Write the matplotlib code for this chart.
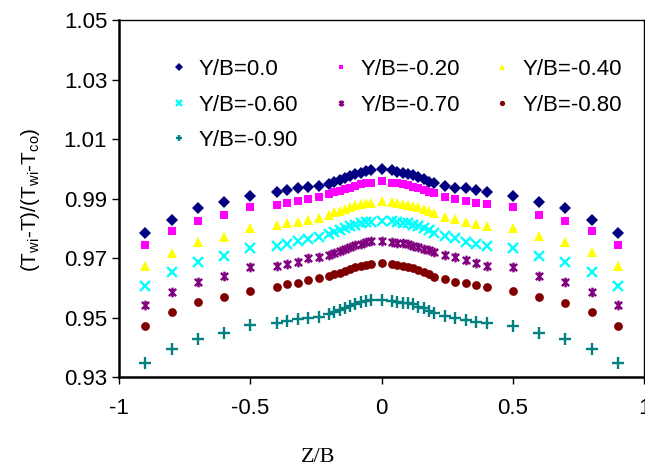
import matplotlib
matplotlib.use("Agg")
import matplotlib.pyplot as plt
from matplotlib.path import Path

plt.rcParams['font.family'] = ['Liberation Sans', 'DejaVu Sans']
plt.rcParams['mathtext.fontset'] = 'custom'
plt.rcParams['mathtext.rm'] = 'Liberation Sans'
plt.rcParams['mathtext.it'] = 'Liberation Sans:italic'

# положение по ширине канала
z = [-0.9, -0.8, -0.7, -0.6, -0.5, -0.4, -0.36, -0.32, -0.28, -0.24, -0.2,
     -0.18, -0.16, -0.14, -0.12, -0.1, -0.08, -0.06, -0.04, 0.0,
     0.04, 0.06, 0.08, 0.1, 0.12, 0.14, 0.16, 0.18, 0.2, 0.24, 0.28,
     0.32, 0.36, 0.4, 0.5, 0.6, 0.7, 0.8, 0.9]

yb_00 = [0.9783, 0.9828, 0.9868, 0.9889, 0.9909, 0.9923, 0.9929, 0.9936, 0.9937, 0.9942, 0.9950,
         0.9957, 0.9963, 0.9970, 0.9977, 0.9983, 0.9987, 0.9991, 0.9996, 1.0000,
         0.9996, 0.9990, 0.9987, 0.9984, 0.9978, 0.9971, 0.9964, 0.9957, 0.9951, 0.9942, 0.9934,
         0.9934, 0.9929, 0.9923, 0.9910, 0.9889, 0.9869, 0.9828, 0.9783]
yb_20 = [0.9744, 0.9792, 0.9826, 0.9845, 0.9870, 0.9878, 0.9884, 0.9892, 0.9898, 0.9904, 0.9914,
         0.9921, 0.9925, 0.9931, 0.9936, 0.9943, 0.9948, 0.9951, 0.9953, 0.9958,
         0.9953, 0.9951, 0.9948, 0.9944, 0.9940, 0.9934, 0.9929, 0.9923, 0.9917, 0.9906, 0.9898,
         0.9893, 0.9886, 0.9880, 0.9873, 0.9845, 0.9826, 0.9792, 0.9744]
yb_40 = [0.9673, 0.9718, 0.9753, 0.9772, 0.9800, 0.9810, 0.9816, 0.9822, 0.9828, 0.9836, 0.9845,
         0.9853, 0.9858, 0.9864, 0.9873, 0.9878, 0.9880, 0.9884, 0.9886, 0.9890,
         0.9887, 0.9884, 0.9880, 0.9877, 0.9875, 0.9870, 0.9864, 0.9858, 0.9850, 0.9839, 0.9830,
         0.9822, 0.9814, 0.9808, 0.9800, 0.9774, 0.9753, 0.9721, 0.9673]
yb_60 = [0.9607, 0.9654, 0.9685, 0.9708, 0.9735, 0.9740, 0.9747, 0.9757, 0.9763, 0.9771, 0.9780,
         0.9789, 0.9794, 0.9800, 0.9808, 0.9811, 0.9816, 0.9820, 0.9822, 0.9824,
         0.9824, 0.9822, 0.9819, 0.9816, 0.9811, 0.9808, 0.9802, 0.9794, 0.9785, 0.9774, 0.9766,
         0.9755, 0.9746, 0.9740, 0.9735, 0.9708, 0.9688, 0.9654, 0.9607]
yb_70 = [0.9542, 0.9587, 0.9620, 0.9641, 0.9669, 0.9674, 0.9680, 0.9688, 0.9699, 0.9702, 0.9710,
         0.9716, 0.9724, 0.9730, 0.9738, 0.9744, 0.9747, 0.9753, 0.9758, 0.9758,
         0.9755, 0.9752, 0.9749, 0.9746, 0.9741, 0.9738, 0.9730, 0.9727, 0.9721, 0.9710, 0.9702,
         0.9693, 0.9682, 0.9674, 0.9669, 0.9641, 0.9620, 0.9587, 0.9542]
yb_80 = [0.9471, 0.9517, 0.9551, 0.9570, 0.9590, 0.9604, 0.9611, 0.9617, 0.9626, 0.9632, 0.9640,
         0.9645, 0.9651, 0.9656, 0.9662, 0.9669, 0.9672, 0.9676, 0.9680, 0.9684,
         0.9679, 0.9676, 0.9673, 0.9671, 0.9665, 0.9660, 0.9654, 0.9646, 0.9637, 0.9629, 0.9618,
         0.9615, 0.9609, 0.9604, 0.9590, 0.9570, 0.9550, 0.9517, 0.9471]
yb_90 = [0.9346, 0.9393, 0.9427, 0.9447, 0.9475, 0.9482, 0.9488, 0.9494, 0.9499, 0.9503, 0.9512,
         0.9517, 0.9525, 0.9531, 0.9539, 0.9545, 0.9551, 0.9555, 0.9559, 0.9560,
         0.9557, 0.9553, 0.9550, 0.9548, 0.9545, 0.9536, 0.9531, 0.9522, 0.9514, 0.9506, 0.9499,
         0.9492, 0.9486, 0.9480, 0.9473, 0.9447, 0.9427, 0.9393, 0.9346]

labels = ["Y/B=0.0", "Y/B=-0.20", "Y/B=-0.40", "Y/B=-0.60",
          "Y/B=-0.70", "Y/B=-0.80", "Y/B=-0.90"]
series = [yb_00, yb_20, yb_40, yb_60, yb_70, yb_80, yb_90]

# звёздочка как в Excel: крест + вертикальная черта
star = Path([(0, -1), (0, 1), (-0.75, -0.75), (0.75, 0.75), (-0.75, 0.75), (0.75, -0.75)],
            [Path.MOVETO, Path.LINETO, Path.MOVETO, Path.LINETO, Path.MOVETO, Path.LINETO])

styles = [
    dict(marker='D', color='#000080', ms=6.5, mew=0),
    dict(marker='s', color='#FF00FF', ms=5.8, mew=0),
    dict(marker='^', color='#FFFF00', ms=7.5, mew=0),
    dict(marker='x', color='#00FFFF', ms=6.5, mew=1.7),
    dict(marker=star, color='#800080', ms=7.0, mew=1.7),
    dict(marker='o', color='#800000', ms=6.3, mew=0),
    dict(marker='+', color='#008080', ms=8.0, mew=1.7),
]

fig = plt.figure(figsize=(6.45, 4.76), dpi=100)
ax = fig.add_axes([119 / 645, 99 / 476, 525 / 645, 357 / 476])

handles = []
for yv, lab, st in zip(series, labels, styles):
    h, = ax.plot(z, yv, linestyle='none', label=lab, **st)
    handles.append(h)

ax.set_xlim(-1, 1)
ax.set_ylim(0.93, 1.05)
ax.set_xticks([-1, -0.5, 0, 0.5, 1])
ax.set_xticklabels(["-1", "-0.5", "0", "0.5", "1"])
ax.set_yticks([0.93, 0.95, 0.97, 0.99, 1.01, 1.03, 1.05])
ax.set_yticklabels(["0.93", "0.95", "0.97", "0.99", "1.01", "1.03", "1.05"])
ax.tick_params(direction='out', length=5, width=1, labelsize=16, color='black')
ax.tick_params(axis='x', pad=10)
for s in ax.spines.values():
    s.set_linewidth(1.0)
ax.spines['left'].set_linewidth(1.8)
ax.spines['bottom'].set_linewidth(1.8)

# легенда заполняется по строкам
order = [0, 3, 6, 1, 4, 2, 5]
ax.legend([handles[i] for i in order], [labels[i] for i in order],
          ncol=3, loc='upper left', bbox_to_anchor=(0.08, 0.915), frameon=False,
          fontsize=16, markerscale=0.6, handlelength=0.8, handletextpad=0.5,
          columnspacing=1.5, labelspacing=0.65, borderaxespad=0)

fig.text(30 / 645, 0.58, "(T$_{\\mathrm{wi}}$-T)/(T$_{\\mathrm{wi}}$-T$_{\\mathrm{co}}$)",
         rotation=90, ha='center', va='center', fontsize=15)
fig.text(318 / 645, 18 / 476, "Z/B", ha='center', va='center', fontsize=16,
         family='Liberation Serif')

fig.savefig("out.png", dpi=100)
